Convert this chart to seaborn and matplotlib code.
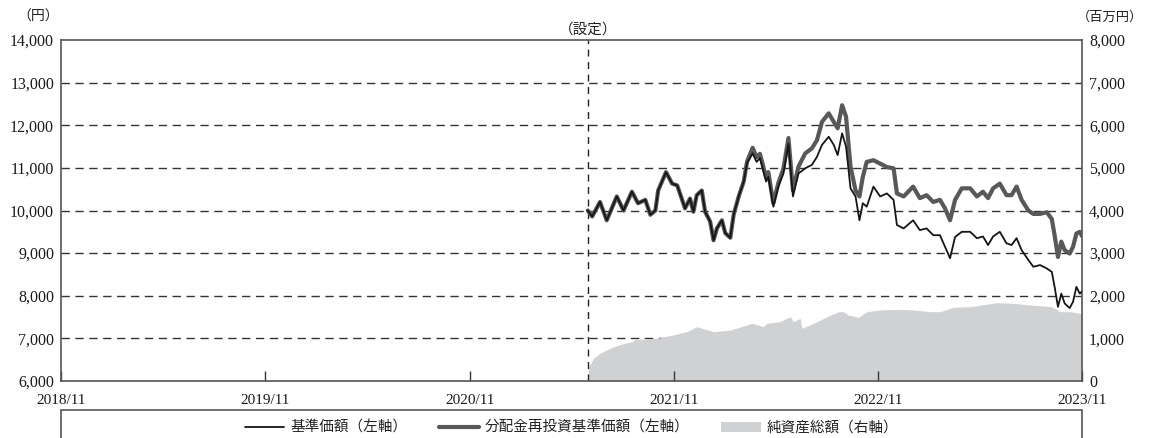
import matplotlib
matplotlib.use("Agg")
import matplotlib.pyplot as plt
import seaborn as sns
import pandas as pd
from matplotlib.lines import Line2D
from matplotlib.patches import Patch, Rectangle

# ---------------- data ----------------
price_dates = [
    '2021-05-31', '2021-06-08', '2021-06-22', '2021-07-04', '2021-07-22', '2021-08-03', '2021-08-18',
    '2021-08-29', '2021-09-11', '2021-09-20', '2021-09-29', '2021-10-04', '2021-10-18', '2021-10-29',
    '2021-11-07', '2021-11-12', '2021-11-21', '2021-11-30', '2021-12-06', '2021-12-12', '2021-12-21',
    '2021-12-27',
    '2022-01-05', '2022-01-11', '2022-01-17', '2022-01-26', '2022-02-01', '2022-02-10', '2022-02-16',
    '2022-02-25', '2022-03-06', '2022-03-12', '2022-03-22', '2022-03-29', '2022-04-04', '2022-04-15',
    '2022-04-19', '2022-04-28', '2022-05-07', '2022-05-16', '2022-05-25', '2022-06-02', '2022-06-12',
    '2022-06-24', '2022-07-06', '2022-07-15', '2022-07-24', '2022-08-05', '2022-08-14', '2022-08-21',
    '2022-08-29', '2022-09-05', '2022-09-13', '2022-09-22', '2022-09-29', '2022-10-05', '2022-10-12',
    '2022-10-24', '2022-11-05', '2022-11-17', '2022-11-29', '2022-12-05', '2022-12-17',
    '2023-01-03', '2023-01-15', '2023-01-27', '2023-02-08', '2023-02-20', '2023-03-01', '2023-03-10',
    '2023-03-19', '2023-03-31', '2023-04-15', '2023-04-27', '2023-05-08', '2023-05-17', '2023-05-26',
    '2023-06-07', '2023-06-19', '2023-06-28', '2023-07-07', '2023-07-16', '2023-07-28', '2023-08-06',
    '2023-08-18', '2023-08-30', '2023-09-08', '2023-09-13', '2023-09-19', '2023-09-25', '2023-10-01',
    '2023-10-10', '2023-10-16', '2023-10-22', '2023-10-28', '2023-11-01',
]

nav_values = [
    10000, 9860, 10200, 9770, 10330, 10000, 10440, 10170, 10250, 9900, 10000, 10470, 10900, 10630,
    10590, 10400, 10050, 10280, 9970, 10360, 10470, 9970,
    9740, 9300, 9580, 9770, 9470, 9360, 9900, 10330, 10680, 11110, 11340, 11140, 11230, 10680,
    10790, 10090, 10560, 10870, 11570, 10330, 10870, 10990, 11070, 11260, 11540, 11730, 11540, 11300,
    11810, 11500, 10520, 10330, 9770, 10170, 10090, 10560, 10330, 10400, 10250, 9660, 9580,
    9770, 9540, 9580, 9420, 9420, 9150, 8880, 9380, 9500, 9500, 9350, 9390, 9190, 9390,
    9500, 9230, 9190, 9350, 9070, 8840, 8680, 8720, 8640, 8560, 8210, 7740, 8050, 7820,
    7710, 7860, 8210, 8050, 8100,
]

reinvest_values = [
    10000, 9860, 10200, 9770, 10330, 10000, 10440, 10170, 10250, 9900, 10000, 10470, 10900, 10630,
    10590, 10400, 10050, 10280, 9970, 10360, 10470, 9970,
    9740, 9300, 9580, 9770, 9470, 9360, 9900, 10330, 10680, 11150, 11470, 11250, 11330, 10780,
    10900, 10170, 10650, 10980, 11700, 10470, 11030, 11340, 11460, 11650, 12080, 12280, 12080, 11930,
    12470, 12200, 11030, 10470, 10330, 10790, 11140, 11180, 11100, 11020, 10990, 10400, 10330,
    10560, 10290, 10360, 10200, 10250, 10050, 9770, 10250, 10520, 10520, 10330, 10440, 10290, 10520,
    10630, 10360, 10360, 10560, 10250, 10000, 9920, 9920, 9960, 9800, 9420, 8910, 9270, 9070,
    8990, 9150, 9460, 9500, 9400,
]

asset_dates = [
    '2021-05-31', '2021-06-02', '2021-06-10', '2021-06-22', '2021-07-10', '2021-07-25', '2021-08-18',
    '2021-08-24', '2021-10-02', '2021-10-31', '2021-11-24', '2021-12-12', '2022-01-11', '2022-02-10',
    '2022-03-21', '2022-04-10', '2022-04-16', '2022-05-10', '2022-05-28', '2022-06-03', '2022-06-15',
    '2022-06-18', '2022-07-09', '2022-08-02', '2022-08-23', '2022-08-31', '2022-09-09', '2022-09-27',
    '2022-10-12', '2022-11-05', '2022-12-05', '2023-01-03', '2023-02-03', '2023-02-20', '2023-03-16',
    '2023-04-15', '2023-06-02', '2023-07-01', '2023-07-31', '2023-09-08', '2023-09-23', '2023-10-11',
    '2023-10-28', '2023-11-01',
]
asset_values = [
    0, 330, 530, 650, 766, 845, 922,
    978, 1000, 1080, 1157, 1275, 1157, 1196,
    1353, 1275, 1353, 1392, 1509, 1392, 1470,
    1236, 1353, 1509, 1626, 1626, 1548, 1493,
    1626, 1666, 1682, 1666, 1626, 1626, 1728,
    1744, 1837, 1822, 1783, 1744, 1626, 1626,
    1588, 1560,
]

x_tick_dates = ['2018-11-01', '2019-11-01', '2020-11-01', '2021-11-01', '2022-11-01', '2023-11-01']
x_tick_labels = ['2018/11', '2019/11', '2020/11', '2021/11', '2022/11', '2023/11']
left_ticks = [6000, 7000, 8000, 9000, 10000, 11000, 12000, 13000, 14000]
right_ticks = [0, 1000, 2000, 3000, 4000, 5000, 6000, 7000, 8000]
setup_date = '2021-06-01'

legend_labels = ['基準価額（左軸）', '分配金再投資基準価額（左軸）', '純資産総額（右軸）']

# ---------------- style ----------------
sns.set_theme(style='white')
plt.rcParams['font.family'] = ['Liberation Serif', 'Noto Sans CJK JP', 'DejaVu Sans']

W, H = 1149, 438
fig = plt.figure(figsize=(W / 100, H / 100), dpi=100)
L, R, T, B = 61, 1082, 40, 381
ax = fig.add_axes([L / W, 1 - B / H, (R - L) / W, (B - T) / H])
ax2 = ax.twinx()
ax.set_zorder(ax2.get_zorder() + 1)
ax.patch.set_visible(False)

pdates = pd.to_datetime(price_dates)
adates = pd.to_datetime(asset_dates)

# net assets (right axis)
ax2.fill_between(adates, asset_values, 0, color='#d0d1d3', lw=0, zorder=2)
for v in right_ticks[1:-1]:
    ax2.axhline(v, color='#333333', lw=1.0, ls=(0, (6, 4)), zorder=0.5)

# price lines (left axis)
df = pd.DataFrame({'date': pdates, 'nav': nav_values, 'reinvest': reinvest_values})
sns.lineplot(data=df, x='date', y='reinvest', ax=ax, color='#585858', lw=3.0, zorder=3)
sns.lineplot(data=df, x='date', y='nav', ax=ax, color='#151515', lw=1.3, zorder=4)

ax.axvline(pd.Timestamp(setup_date), color='#222222', lw=1.0, ls=(0, (5, 4)), zorder=2)

ax.set_xlim(pd.Timestamp(x_tick_dates[0]), pd.Timestamp(x_tick_dates[-1]))
ax.set_ylim(left_ticks[0], left_ticks[-1])
ax2.set_ylim(right_ticks[0], right_ticks[-1])
ax.set_xlabel('')
ax.set_ylabel('')
ax2.set_ylabel('')

ax.set_xticks(pd.to_datetime(x_tick_dates))
ax.set_xticklabels(x_tick_labels)
ax.set_yticks(left_ticks)
ax.set_yticklabels([f'{v:,}' for v in left_ticks])
ax2.set_yticks(right_ticks)
ax2.set_yticklabels([f'{v:,}' for v in right_ticks])

ax.tick_params(axis='x', direction='in', length=7, width=1, color='#333333', pad=9,
               labelsize=11, labelcolor='#1a1a1a', bottom=True)
ax.tick_params(axis='y', length=0, pad=5, labelsize=11.5, labelcolor='#1a1a1a')
ax2.tick_params(axis='y', length=0, pad=5, labelsize=11.5, labelcolor='#1a1a1a')

for s in ax.spines.values():
    s.set_visible(True)
    s.set_color('#555555')
    s.set_linewidth(1.2)
for s in ax2.spines.values():
    s.set_visible(False)

cjk = ['Noto Sans CJK JP', 'DejaVu Sans']
fig.text(38 / W, 1 - 17 / H, '（円）', ha='center', va='center', fontsize=10, family=cjk, color='#222222')
fig.text(1110 / W, 1 - 17 / H, '（百万円）', ha='center', va='center', fontsize=9.5, family=cjk, color='#222222')
fig.text(588 / W, 1 - 30 / H, '（設定）', ha='center', va='center', fontsize=10.5, family=cjk, color='#222222')

handles = [
    Line2D([0], [0], color='#151515', lw=1.3),
    Line2D([0], [0], color='#585858', lw=3.0),
    Patch(facecolor='#d0d1d3', edgecolor='none'),
]
leg = fig.legend(handles, legend_labels, loc='center', bbox_to_anchor=((L + R) / 2 / W, 1 - 428 / H),
                 ncol=3, frameon=False, handlelength=2.7, handletextpad=0.4, columnspacing=2.2,
                 prop={'family': cjk, 'size': 10.5})
for t in leg.get_texts():
    t.set_color('#222222')

box = Rectangle((L / W, -0.1), (R - L) / W, 0.1 + (1 - 410 / H), transform=fig.transFigure,
                facecolor='none', edgecolor='#555555', lw=1.2, clip_on=False)
fig.patches.append(box)

fig.savefig('out.png', dpi=100)
